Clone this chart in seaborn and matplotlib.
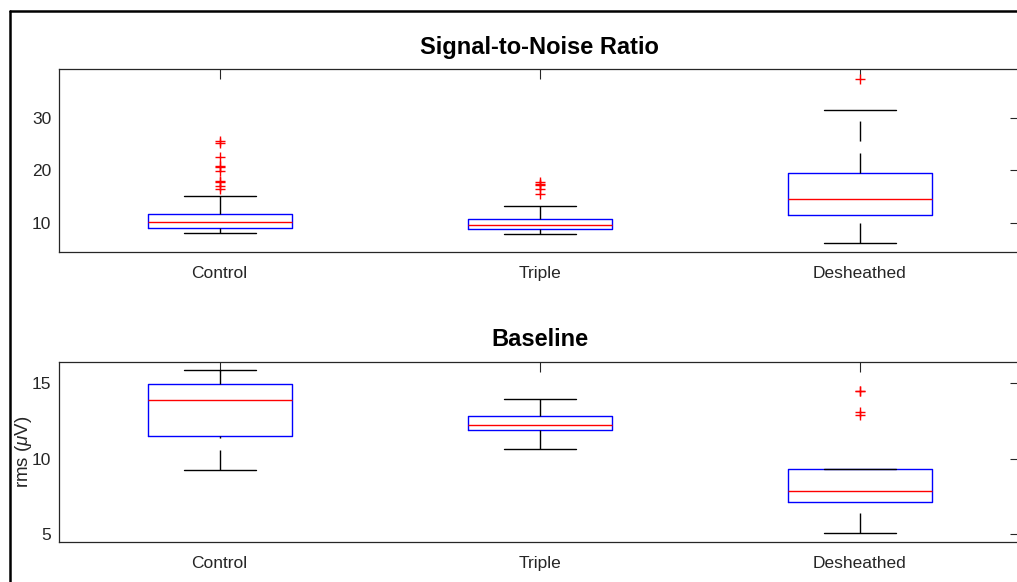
import numpy as np
import pandas as pd
import matplotlib
matplotlib.use('Agg')
import matplotlib.pyplot as plt
import seaborn as sns
from matplotlib.lines import Line2D

groups = ['Control', 'Triple', 'Desheathed']

# signal-to-noise ratio: box stats
snr_lo = [7.98, 7.85, 6.08]
snr_q1 = [9.05, 8.86, 11.47]
snr_med = [10.07, 9.50, 14.46]
snr_q3 = [11.60, 10.65, 19.52]
snr_hi = [15.09, 13.18, 31.52]
snr_out_control = [25.6, 25.2, 22.6, 20.9, 20.7, 19.8, 18.0, 17.7, 17.0, 16.4]
snr_out_triple = [17.8, 17.4, 17.1, 16.4, 15.5]
snr_out_desheathed = [37.4]

# baseline rms (uV)
base_lo = [9.23, 10.61, 5.05]
base_q1 = [11.50, 11.87, 7.11]
base_med = [13.89, 12.24, 7.84]
base_q3 = [14.91, 12.83, 9.29]
base_hi = [15.86, 13.94, 9.29]
base_out_control = []
base_out_triple = []
base_out_desheathed = [14.50, 14.45, 13.08, 12.86]


def box_stats(lo, q1, med, q3, hi):
    return [dict(label=g, whislo=lo[i], q1=q1[i], med=med[i], q3=q3[i], whishi=hi[i], fliers=[])
            for i, g in enumerate(groups)]


def draw_panel(ax, stats, outliers, title, ylim, yticks):
    bp = ax.bxp(stats, positions=range(len(groups)), widths=0.45, showfliers=False,
                boxprops=dict(color='blue', linewidth=1.0),
                medianprops=dict(color='red', linewidth=1.0),
                whiskerprops=dict(color='black', linewidth=1.0, linestyle=(0, (14.4, 8.6))),
                capprops=dict(color='black', linewidth=1.0))
    # lower whiskers start their dash at the cap, like MATLAB
    for w in bp['whiskers'][0::2]:
        x, y = w.get_data()
        w.set_data(x[::-1], y[::-1])

    df = pd.DataFrame({'group': [g for g, v in zip(groups, outliers) for _ in v],
                       'value': [x for v in outliers for x in v]})
    sns.stripplot(data=df, x='group', y='value', order=groups, jitter=False,
                  marker='+', color='red', size=7.5, linewidth=1.0, ax=ax, zorder=4)

    ax.set_xlim(-0.5, len(groups) - 0.5)
    ax.set_ylim(*ylim)
    ax.set_xticks(range(len(groups)))
    ax.set_xticklabels(groups)
    ax.set_yticks(yticks)
    ax.set_xlabel('')
    ax.set_ylabel('')
    ax.tick_params(direction='in', length=7, width=0.8, color='#262626',
                   top=True, right=True, labelsize=12.5, labelcolor='#262626')
    ax.tick_params(axis='x', pad=10.5)
    ax.tick_params(axis='y', pad=6)
    for s in ax.spines.values():
        s.set_visible(True)
        s.set_color('#262626')
        s.set_linewidth(0.9)
    ax.set_title(title, fontsize=17, fontweight='bold', pad=11, color='black')


sns.set_theme(style='white')
plt.rcParams['font.family'] = ['Liberation Sans Narrow', 'Liberation Sans', 'DejaVu Sans']
plt.rcParams['mathtext.fontset'] = 'custom'
plt.rcParams['mathtext.it'] = 'Liberation Sans:italic'
plt.rcParams['mathtext.rm'] = 'Liberation Sans'

fig = plt.figure(figsize=(10.17, 5.82), dpi=100)
fig.patch.set_facecolor('white')
ax1 = fig.add_axes([0.0585, 0.5675, 0.9444, 0.3131])
ax2 = fig.add_axes([0.0585, 0.0692, 0.9444, 0.3093])

draw_panel(ax1, box_stats(snr_lo, snr_q1, snr_med, snr_q3, snr_hi),
           [snr_out_control, snr_out_triple, snr_out_desheathed],
           'Signal-to-Noise Ratio', (4.48, 39.2), [10, 20, 30])
draw_panel(ax2, box_stats(base_lo, base_q1, base_med, base_q3, base_hi),
           [base_out_control, base_out_triple, base_out_desheathed],
           'Baseline', (4.49, 16.41), [5, 10, 15])
ax2.set_ylabel(r'rms ($\mu$V)', fontsize=13.5, color='#262626')
ax2.yaxis.set_label_coords(-0.027, 0.5)

# window frame seen at the top-left of the screenshot
fig.add_artist(Line2D([10 / 1017, 10 / 1017], [0, 1 - 11 / 582], transform=fig.transFigure,
                      color='black', linewidth=1.8))
fig.add_artist(Line2D([10 / 1017, 1], [1 - 11 / 582, 1 - 11 / 582], transform=fig.transFigure,
                      color='black', linewidth=1.8))

fig.savefig('out.png', dpi=100)
